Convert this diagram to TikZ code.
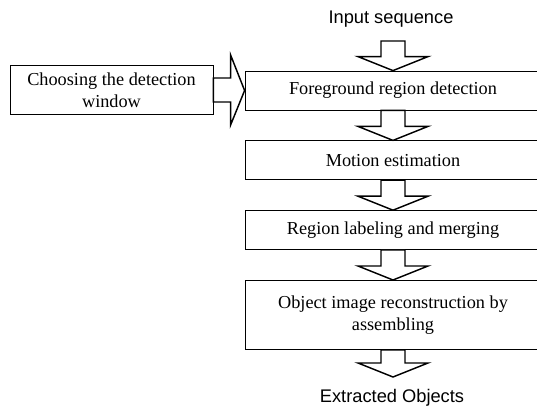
\documentclass[tikz,border=0pt]{standalone}
\usepackage{fontspec}
\setmainfont{Liberation Serif}
\newfontfamily\headfont{Liberation Sans}
\usetikzlibrary{positioning,calc}

% hollow block arrows: #1 = shaft start, #2 = tip
\newcommand{\blockdown}[2]{%
  \draw[blockarrow] let \p1=(#1), \p2=(#2) in
    (\x1-9pt,\y1) -- (\x1-9pt,\y2+10.5pt) -- (\x1-26.25pt,\y2+10.5pt) -- (\x2,\y2)
    -- (\x1+26.25pt,\y2+10.5pt) -- (\x1+9pt,\y2+10.5pt) -- (\x1+9pt,\y1) -- cycle;}
\newcommand{\blockright}[2]{%
  \draw[blockarrow] let \p1=(#1), \p2=(#2) in
    (\x1,\y1+9pt) -- (\x2-10.5pt,\y1+9pt) -- (\x2-10.5pt,\y1+26.25pt) -- (\x2,\y2)
    -- (\x2-10.5pt,\y1-26.25pt) -- (\x2-10.5pt,\y1-9pt) -- (\x1,\y1-9pt) -- cycle;}

\begin{document}
\begin{tikzpicture}[
    x=0.75pt, y=0.75pt,
    node distance=22.5pt,
    box/.style={rectangle, draw, line width=0.6pt, minimum width=222pt, minimum height=29.25pt, inner sep=2pt, align=center, font=\fontsize{13.7}{16.5}\selectfont},
    io/.style={font=\headfont\fontsize{13.7}{16}\selectfont},
    blockarrow/.style={draw, line width=1.1pt, fill=white},
]
\useasboundingbox (0,0) rectangle (537,-416);

% Title
\node[io] (inseq) at (391,-19) {Input sequence};

% ====== Main chain ======
\node[box] (fgdet) at (393,-90.5) {Foreground region detection};
\node[box, below=of fgdet] (motion) {Motion estimation};
\node[box, below=of motion] (merge) {Region labeling and merging};
\node[box, below=of merge, minimum height=51.75pt] (recon) {Object image reconstruction by\\assembling};

% ====== Side input ======
\node[box, minimum width=152.25pt, minimum height=36.75pt] (choose) at (111.5,-90) {Choosing the detection\\window};

% ====== Output ======
\node[io] (outobj) at (392,-398) {Extracted Objects};

% ====== Arrows ======
\coordinate (intop) at (393,-41);
\coordinate (outtip) at (393,-377);
\blockdown{intop}{fgdet.north}
\blockdown{fgdet.south}{motion.north}
\blockdown{motion.south}{merge.north}
\blockdown{merge.south}{recon.north}
\blockdown{recon.south}{outtip}
\blockright{choose.east}{fgdet.west}

\end{tikzpicture}
\end{document}
